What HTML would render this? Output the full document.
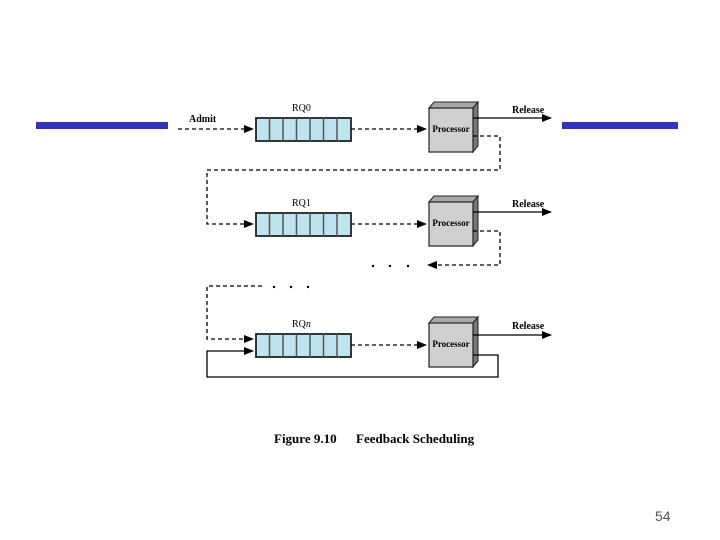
<!DOCTYPE html>
<html><head><meta charset="utf-8"><style>
html,body{margin:0;padding:0;background:#fff;}
svg{display:block;}
</style></head><body>
<svg width="720" height="540" viewBox="0 0 720 540" xmlns="http://www.w3.org/2000/svg">
<defs>
<marker id="a" markerWidth="10" markerHeight="8" refX="9" refY="4" orient="auto" markerUnits="userSpaceOnUse">
<path d="M0,0 L10,4 L0,8 z" fill="#000"/></marker>
<g id="q">
<rect x="0" y="0" width="95" height="23" fill="#bfe3ef" stroke="#222" stroke-width="1.8"/>
<path d="M13.5,0v23M27,0v23M40.5,0v23M54,0v23M67.5,0v23M81,0v23" stroke="#555" stroke-width="1.5"/>
</g>
<g id="p">
<polygon points="0,0 5,-6 49,-6 44,0" fill="#a8a8a8" stroke="#222" stroke-width="1"/>
<polygon points="44,0 49,-6 49,38 44,44" fill="#777" stroke="#222" stroke-width="1"/>
<rect x="0" y="0" width="44" height="44" fill="#d0d0d0" stroke="#222" stroke-width="1.2"/>
<text x="22" y="24" font-family="Liberation Serif, serif" font-size="9" font-weight="bold" text-anchor="middle">Processor</text>
</g>
</defs>
<rect x="36" y="122" width="132" height="7" fill="#3333bb"/>
<rect x="562" y="122" width="116" height="7" fill="#3333bb"/>

<g font-family="Liberation Serif, serif" font-size="10" fill="#000">
<text x="189" y="122" font-weight="bold">Admit</text>
<text x="292" y="111">RQ0</text>
<text x="292" y="206">RQ1</text>
<text x="292" y="327">RQ<tspan font-style="italic">n</tspan></text>
<text x="512" y="113" font-weight="bold">Release</text>
<text x="512" y="207" font-weight="bold">Release</text>
<text x="512" y="329" font-weight="bold">Release</text>
</g>

<use href="#q" x="256" y="118"/>
<use href="#q" x="256" y="213"/>
<use href="#q" x="256" y="334"/>
<use href="#p" x="429" y="108"/>
<use href="#p" x="429" y="202"/>
<use href="#p" x="429" y="323"/>

<g fill="none" stroke="#000" stroke-width="1.3" stroke-dasharray="4,3">
<path d="M178,129H253" marker-end="url(#a)"/>
<path d="M351,129H426" marker-end="url(#a)"/>
<path d="M473,136H500V170H207V224H253" marker-end="url(#a)"/>
<path d="M351,224H426" marker-end="url(#a)"/>
<path d="M473,231H500V265H428" marker-end="url(#a)"/>
<path d="M262,286H207V339H253" marker-end="url(#a)"/>
<path d="M351,345H426" marker-end="url(#a)"/>
</g>
<g fill="none" stroke="#000" stroke-width="1.3">
<path d="M473,118H551" marker-end="url(#a)"/>
<path d="M473,212H551" marker-end="url(#a)"/>
<path d="M473,335H551" marker-end="url(#a)"/>
<path d="M473,355H498V377H207V351H253" marker-end="url(#a)"/>
</g>
<g fill="#000">
<circle cx="373" cy="266" r="1.2"/><circle cx="390" cy="266" r="1.2"/><circle cx="408" cy="266" r="1.2"/>
<circle cx="274" cy="287" r="1.2"/><circle cx="291" cy="287" r="1.2"/><circle cx="308" cy="287" r="1.2"/>
</g>
<g font-family="Liberation Serif, serif" font-size="13" font-weight="bold">
<text x="274" y="443">Figure 9.10</text>
<text x="356" y="443">Feedback Scheduling</text>
</g>
<text x="655" y="521" font-family="Liberation Sans, sans-serif" font-size="14" fill="#555">54</text>
</svg>
</body></html>
